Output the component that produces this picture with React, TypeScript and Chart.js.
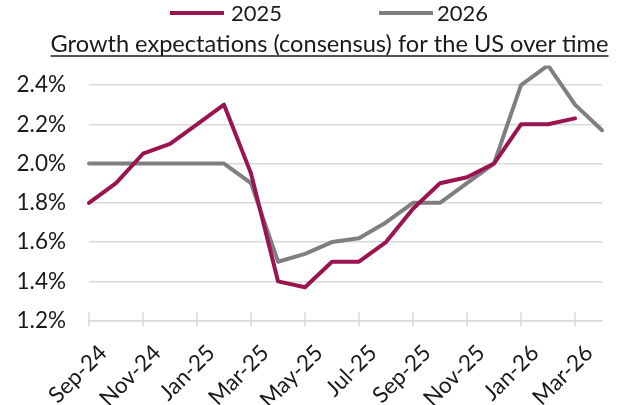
import React, { useEffect, useRef } from 'react';
import { Chart, registerables } from 'chart.js';

Chart.register(...registerables);

const months = [
  'Sep-24', 'Oct-24', 'Nov-24', 'Dec-24', 'Jan-25', 'Feb-25', 'Mar-25', 'Apr-25',
  'May-25', 'Jun-25', 'Jul-25', 'Aug-25', 'Sep-25', 'Oct-25', 'Nov-25', 'Dec-25',
  'Jan-26', 'Feb-26', 'Mar-26', 'Apr-26',
];

const series2025 = [
  1.8, 1.9, 2.05, 2.1, 2.2, 2.3, 1.95, 1.4, 1.37, 1.5, 1.5, 1.6,
  1.77, 1.9, 1.93, 2.0, 2.2, 2.2, 2.23, null,
];

const series2026 = [
  2.0, 2.0, 2.0, 2.0, 2.0, 2.0, 1.9, 1.5, 1.54, 1.6, 1.62, 1.7,
  1.8, 1.8, 1.9, 2.0, 2.4, 2.5, 2.3, 2.17,
];

const yTicks = [1.2, 1.4, 1.6, 1.8, 2.0, 2.2, 2.4];
const seriesNames = ['2025', '2026'];
const titleText = 'Growth expectations (consensus) for the US over time';

const MAROON = '#9a1550';
const GRAY = '#7f7f7f';
const GRID = '#d9d9d9';
const TEXT = '#1a1a1a';
const FONT = 'Lato';

const legendLayout = [
  { lineX: 170, lineW: 54, textX: 231 },
  { lineX: 379, lineW: 54, textX: 437 },
];

const headerPlugin = {
  id: 'header',
  afterDraw(chart: any) {
    const ctx = chart.ctx;
    ctx.save();
    // legend
    chart.data.datasets.forEach((ds: any, i: number) => {
      const l = legendLayout[i];
      ctx.strokeStyle = ds.borderColor;
      ctx.lineWidth = 4;
      ctx.lineCap = 'butt';
      ctx.beginPath();
      ctx.moveTo(l.lineX, 13);
      ctx.lineTo(l.lineX + l.lineW, 13);
      ctx.stroke();
      ctx.fillStyle = TEXT;
      ctx.font = `22px ${FONT}`;
      ctx.textAlign = 'left';
      ctx.textBaseline = 'middle';
      ctx.fillText(ds.label, l.textX, 14);
    });
    // title
    ctx.font = `23.6px ${FONT}`;
    ctx.textAlign = 'center';
    ctx.textBaseline = 'alphabetic';
    const cx = 329.5;
    const by = 52;
    ctx.fillText(titleText, cx, by);
    const w = ctx.measureText(titleText).width;
    ctx.strokeStyle = TEXT;
    ctx.lineWidth = 1.4;
    ctx.beginPath();
    ctx.moveTo(cx - w / 2, by + 4);
    ctx.lineTo(cx + w / 2, by + 4);
    ctx.stroke();
    ctx.restore();
  },
};

const tickMarksPlugin = {
  id: 'tickMarks',
  beforeDatasetsDraw(chart: any) {
    const ctx = chart.ctx;
    const xs = chart.scales.x;
    const b = chart.chartArea.bottom;
    ctx.save();
    ctx.strokeStyle = GRID;
    ctx.lineWidth = 1.5;
    months.forEach((_, i) => {
      if (i % 2 !== 0) return;
      const px = xs.getPixelForValue(i);
      ctx.beginPath();
      ctx.moveTo(px, b - 8);
      ctx.lineTo(px, b + 6);
      ctx.stroke();
    });
    ctx.restore();
  },
};

export default function App() {
  const ref = useRef<HTMLCanvasElement | null>(null);

  useEffect(() => {
    document.body.style.margin = '0';
    if (!ref.current) return;
    const chart = new Chart(ref.current, {
      type: 'line',
      data: {
        labels: months,
        datasets: [
          {
            label: seriesNames[0],
            data: series2025,
            borderColor: MAROON,
            backgroundColor: MAROON,
            borderWidth: 4,
            pointRadius: 0,
            tension: 0,
            borderCapStyle: 'round',
            borderJoinStyle: 'round',
            spanGaps: false,
          },
          {
            label: seriesNames[1],
            data: series2026,
            borderColor: GRAY,
            backgroundColor: GRAY,
            borderWidth: 4,
            pointRadius: 0,
            tension: 0,
            borderCapStyle: 'round',
            borderJoinStyle: 'round',
          },
        ],
      },
      options: {
        animation: false,
        responsive: false,
        layout: { padding: { top: 65.4, right: 21, left: 0, bottom: 0 } },
        plugins: {
          legend: { display: false },
          title: { display: false },
          tooltip: { enabled: false },
        },
        scales: {
          x: {
            grid: { display: false },
            border: { display: true, color: GRID, width: 1.5 },
            ticks: {
              autoSkip: false,
              maxRotation: 45,
              minRotation: 45,
              padding: 11,
              labelOffset: 14,
              color: TEXT,
              font: { family: FONT, size: 22.5 },
              callback: (_v: any, i: number) => (i % 2 === 0 ? months[i] : null),
            },
            afterFit: (s: any) => {
              s.height = 405 - 320.6;
            },
          },
          y: {
            min: 1.2,
            max: 2.5,
            grid: { color: GRID, lineWidth: 1.5, drawTicks: false },
            border: { display: false },
            ticks: {
              padding: 23,
              color: TEXT,
              font: { family: FONT, size: 22.5 },
              callback: (v: any) => Number(v).toFixed(1) + '%',
            },
            afterBuildTicks: (s: any) => {
              s.ticks = yTicks.map((v) => ({ value: v }));
            },
            afterFit: (s: any) => {
              s.width = 89;
            },
          },
        },
      },
      plugins: [headerPlugin, tickMarksPlugin],
    });
    return () => chart.destroy();
  }, []);

  return (
    <div style={{ position: 'absolute', left: 0, top: 0, width: 623, height: 405 }}>
      <canvas ref={ref} width={623} height={405} style={{ width: 623, height: 405, display: 'block' }} />
    </div>
  );
}
